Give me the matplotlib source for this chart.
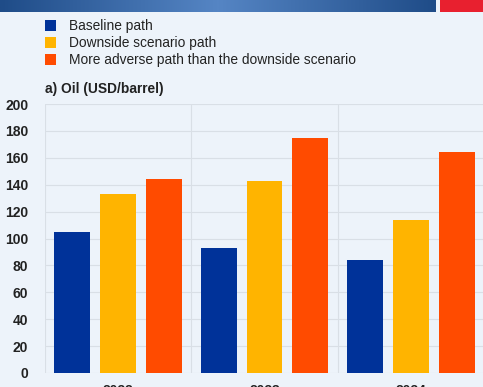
import numpy as np
import matplotlib.pyplot as plt
from matplotlib.patches import Rectangle

plt.rcParams['font.family'] = ['Liberation Sans', 'DejaVu Sans']

# Data
years = ["2022", "2023", "2024"]
series_names = ["Baseline path", "Downside scenario path",
                "More adverse path than the downside scenario"]
baseline = [105, 93, 84]
downside = [133, 143, 114]
adverse = [144, 175, 164]
colors = ["#003299", "#FFB400", "#FF4B00"]
yticks = [0, 20, 40, 60, 80, 100, 120, 140, 160, 180, 200]

bg = "#EDF3FA"
W, H = 483, 387
fig = plt.figure(figsize=(W / 100, H / 100), dpi=100, facecolor=bg)

# Top banner with gradient
bax = fig.add_axes([0, 1 - 12 / H, 436 / W, 12 / H])
grad = np.linspace(-1, 1, 256)
grad = 1 - np.abs(grad)
bax.imshow(grad[np.newaxis, :], aspect="auto", cmap=plt.matplotlib.colors.LinearSegmentedColormap.from_list(
    "ban", ["#1F4C88", "#5585C4"]), extent=[0, 1, 0, 1])
bax.set_axis_off()
fig.add_artist(Rectangle((440 / W, 1 - 12 / H), 1 - 440 / W, 12 / H,
                         transform=fig.transFigure, color="#E8202F", lw=0))

# Legend
for i, (name, c) in enumerate(zip(series_names, colors)):
    y = 26 + i * 17
    fig.add_artist(Rectangle((45 / W, 1 - (y + 5) / H), 11 / W, 11 / H,
                             transform=fig.transFigure, color=c, lw=0))
    fig.text(69 / W, 1 - y / H, name, fontsize=9.95, va="center", ha="left", color="#222222")

fig.text(45 / W, 1 - 89 / H, "a) Oil (USD/barrel)", fontsize=9.9, fontweight="bold",
         va="center", ha="left", color="#222222")

# Chart
ax = fig.add_axes([45 / W, 1 - 373 / H, (484 - 45) / W, (373 - 104) / H])
ax.set_facecolor(bg)
x = np.arange(len(years))
w = 0.245
off = 0.313
for vals, c, k in zip([baseline, downside, adverse], colors, [-1, 0, 1]):
    ax.bar(x + k * off, vals, width=w, color=c, zorder=3)

ax.set_xlim(-0.5, 2.5)
ax.set_ylim(0, 200)
ax.set_yticks(yticks)
ax.set_xticks(x)
ax.set_xticklabels(years)
ax.set_xticks([-0.5, 0.5, 1.5, 2.5], minor=True)
ax.grid(True, axis="y", color="#D9DFE6", lw=0.8, zorder=0)
ax.grid(True, axis="x", which="minor", color="#D9DFE6", lw=0.8, zorder=0)
ax.tick_params(axis="both", which="both", length=0)
ax.tick_params(axis="y", pad=12, labelsize=10)
ax.tick_params(axis="x", pad=8, labelsize=10)
for lab in ax.get_yticklabels() + ax.get_xticklabels():
    lab.set_fontweight("bold")
    lab.set_color("#222222")
for s in ax.spines.values():
    s.set_visible(False)

fig.savefig("out.png", dpi=100, facecolor=bg)
